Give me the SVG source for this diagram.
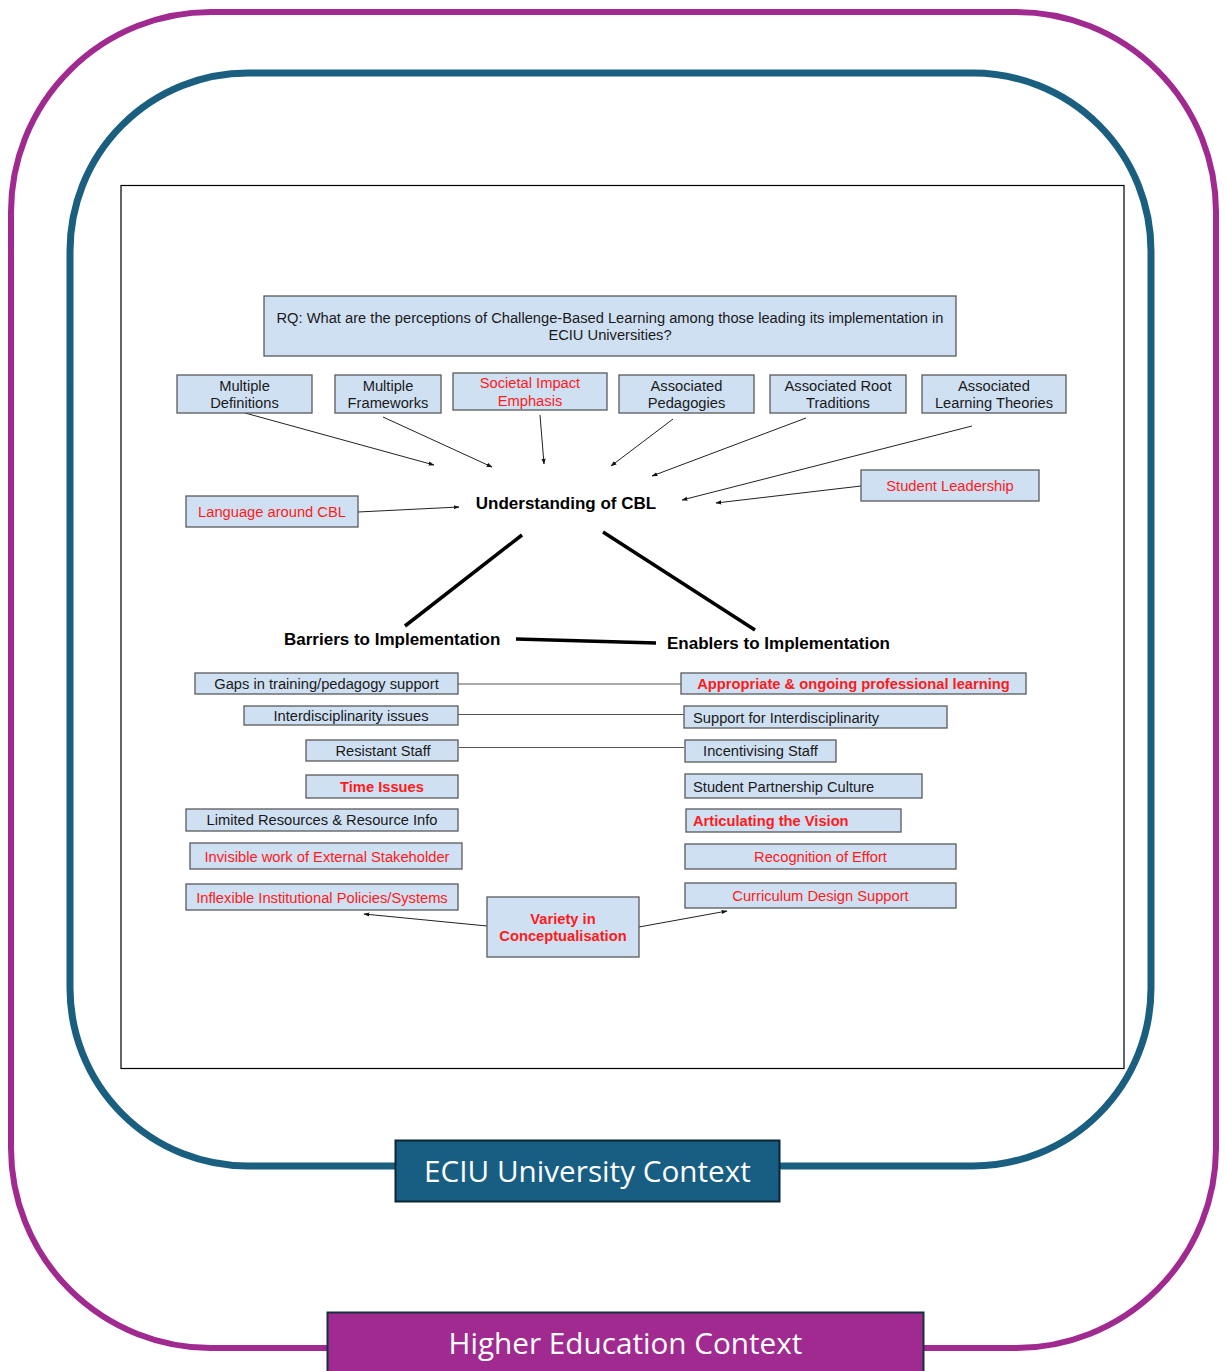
<svg xmlns="http://www.w3.org/2000/svg" width="1227" height="1371" viewBox="0 0 1227 1371">
<defs>
<marker id="ah" viewBox="0 0 10 10" refX="9" refY="5" markerWidth="6" markerHeight="6" orient="auto" markerUnits="userSpaceOnUse">
<path d="M0,1.5 L10,5 L0,8.5 z" fill="#111"/>
</marker>
<style>
.box{fill:#cfe0f2;stroke:#5a5a5a;stroke-width:1.3}
.t{font-family:"Liberation Sans",Arial,sans-serif;font-size:14.7px;fill:#1a1a1a}
.r{fill:#ff1a1a}
.b{font-weight:bold}
.m{text-anchor:middle}
.h{font-family:"Liberation Sans",Arial,sans-serif;font-size:17px;font-weight:bold;fill:#000}
.a{stroke:#222;stroke-width:1;fill:none;marker-end:url(#ah)}
.thk{stroke:#000;stroke-width:3.5;fill:none}
.ln{stroke:#555;stroke-width:1.2;fill:none}
.ctx{font-family:"Open Sans","Noto Sans",sans-serif;font-size:29.7px;fill:#fff;text-anchor:middle}
</style>
</defs>
<rect width="1227" height="1371" fill="#fff"/>
<g id="higher-ed-frame">
<rect x="11" y="12" width="1205" height="1336" rx="200" ry="200" fill="none" stroke="#a02a8f" stroke-width="6"/>
</g>
<g id="eciu-frame">
<rect x="70" y="73" width="1081" height="1093" rx="178" ry="178" fill="none" stroke="#1a5f80" stroke-width="7"/>
</g>
<g id="inner-frame">
<rect x="121" y="185.5" width="1003" height="883" fill="#fff" stroke="#000" stroke-width="1.2"/>
</g>
<g id="connectors">
<line class="a" x1="245" y1="413" x2="434" y2="465"/>
<line class="a" x1="383" y1="417" x2="492" y2="467"/>
<line class="a" x1="540" y1="415" x2="544" y2="464"/>
<line class="a" x1="673" y1="419" x2="611" y2="466"/>
<line class="a" x1="806" y1="418" x2="652" y2="476"/>
<line class="a" x1="972" y1="426" x2="682" y2="500"/>
<line class="a" x1="861" y1="486" x2="716" y2="503"/>
<line class="a" x1="358" y1="512" x2="459" y2="507"/>
<line class="thk" x1="522" y1="535" x2="405" y2="626"/>
<line class="thk" x1="603" y1="532" x2="755" y2="630"/>
<line class="thk" x1="516" y1="639" x2="656" y2="643"/>
<line class="ln" x1="458" y1="684" x2="681" y2="684"/>
<line class="ln" x1="458" y1="714.5" x2="684" y2="714.5"/>
<line class="ln" x1="459" y1="747.5" x2="684" y2="747.5"/>
<line class="a" x1="487" y1="926" x2="364" y2="914"/>
<line class="a" x1="639" y1="927" x2="727" y2="911"/>
</g>
<g id="rq">
<rect class="box" x="264" y="296" width="692" height="60"/>
<text class="t m" x="610" y="323">RQ: What are the perceptions of Challenge-Based Learning among those leading its implementation in</text>
<text class="t m" x="610" y="340">ECIU Universities?</text>
</g>
<g id="multiple-definitions">
<rect class="box" x="177" y="375" width="135" height="38"/>
<text class="t m" x="244.5" y="391">Multiple</text>
<text class="t m" x="244.5" y="408">Definitions</text>
</g>
<g id="multiple-frameworks">
<rect class="box" x="335" y="375" width="106" height="38"/>
<text class="t m" x="388" y="391">Multiple</text>
<text class="t m" x="388" y="408">Frameworks</text>
</g>
<g id="societal-impact">
<rect class="box" x="453" y="373" width="154" height="37"/>
<text class="t m r" x="530" y="388">Societal Impact</text>
<text class="t m r" x="530" y="406">Emphasis</text>
</g>
<g id="associated-pedagogies">
<rect class="box" x="619" y="375" width="135" height="38"/>
<text class="t m" x="686.5" y="391">Associated</text>
<text class="t m" x="686.5" y="408">Pedagogies</text>
</g>
<g id="associated-root-traditions">
<rect class="box" x="770" y="375" width="136" height="38"/>
<text class="t m" x="838" y="391">Associated Root</text>
<text class="t m" x="838" y="408">Traditions</text>
</g>
<g id="associated-learning-theories">
<rect class="box" x="922" y="375" width="144" height="38"/>
<text class="t m" x="994" y="391">Associated</text>
<text class="t m" x="994" y="408">Learning Theories</text>
</g>
<g id="understanding">
<text class="h m" x="566" y="509">Understanding of CBL</text>
</g>
<g id="language-around-cbl">
<rect class="box" x="186" y="496" width="172" height="31"/>
<text class="t m r" x="272" y="517">Language around CBL</text>
</g>
<g id="student-leadership">
<rect class="box" x="861" y="470" width="178" height="31"/>
<text class="t m r" x="950" y="491">Student Leadership</text>
</g>
<g id="barriers">
<text class="h" x="284" y="645" font-size="16.5">Barriers to Implementation</text>
</g>
<g id="enablers">
<text class="h" x="667" y="649" font-size="16.5">Enablers to Implementation</text>
</g>
<g id="gaps">
<rect class="box" x="195" y="673" width="263" height="21"/>
<text class="t m" x="326.5" y="689">Gaps in training/pedagogy support</text>
</g>
<g id="interdisciplinarity-issues">
<rect class="box" x="244" y="706" width="214" height="19"/>
<text class="t m" x="351" y="721">Interdisciplinarity issues</text>
</g>
<g id="resistant-staff">
<rect class="box" x="306" y="740" width="152" height="21"/>
<text class="t m" x="383" y="756">Resistant Staff</text>
</g>
<g id="time-issues">
<rect class="box" x="306" y="775" width="152" height="23"/>
<text class="t m r b" x="382" y="792">Time Issues</text>
</g>
<g id="limited-resources">
<rect class="box" x="186" y="809" width="272" height="22"/>
<text class="t m" x="322" y="825">Limited Resources &amp; Resource Info</text>
</g>
<g id="invisible-work">
<rect class="box" x="190" y="843" width="272" height="26"/>
<text class="t m r" x="327" y="862">Invisible work of External Stakeholder</text>
</g>
<g id="inflexible-policies">
<rect class="box" x="186" y="884" width="272" height="26"/>
<text class="t m r" x="322" y="903">Inflexible Institutional Policies/Systems</text>
</g>
<g id="appropriate-learning">
<rect class="box" x="681" y="673" width="345" height="21"/>
<text class="t m r b" x="853.5" y="689">Appropriate &amp; ongoing professional learning</text>
</g>
<g id="support-interdisciplinarity">
<rect class="box" x="684" y="706" width="263" height="22"/>
<text class="t" x="693" y="723">Support for Interdisciplinarity</text>
</g>
<g id="incentivising-staff">
<rect class="box" x="685" y="740" width="151" height="22"/>
<text class="t m" x="760.5" y="756">Incentivising Staff</text>
</g>
<g id="student-partnership">
<rect class="box" x="685" y="774" width="237" height="24"/>
<text class="t" x="693" y="792">Student Partnership Culture</text>
</g>
<g id="articulating-vision">
<rect class="box" x="686" y="809" width="215" height="23"/>
<text class="t r b" x="693" y="826">Articulating the Vision</text>
</g>
<g id="recognition-effort">
<rect class="box" x="685" y="844" width="271" height="25"/>
<text class="t m r" x="820.5" y="862">Recognition of Effort</text>
</g>
<g id="curriculum-design">
<rect class="box" x="685" y="883" width="271" height="25"/>
<text class="t m r" x="820.5" y="901">Curriculum Design Support</text>
</g>
<g id="variety">
<rect class="box" x="487" y="897" width="152" height="60"/>
<text class="t m r b" x="563" y="924">Variety in</text>
<text class="t m r b" x="563" y="941">Conceptualisation</text>
</g>
<g id="eciu-label">
<rect x="395.5" y="1140.5" width="384" height="61" fill="#175e82" stroke="#0d2433" stroke-width="2"/>
<text class="ctx" x="587.5" y="1182">ECIU University Context</text>
</g>
<g id="higher-ed-label">
<rect x="327.5" y="1312.5" width="596" height="62" fill="#a02a8f" stroke="#14303f" stroke-width="2"/>
<text class="ctx" x="625.5" y="1354">Higher Education Context</text>
</g>
</svg>
